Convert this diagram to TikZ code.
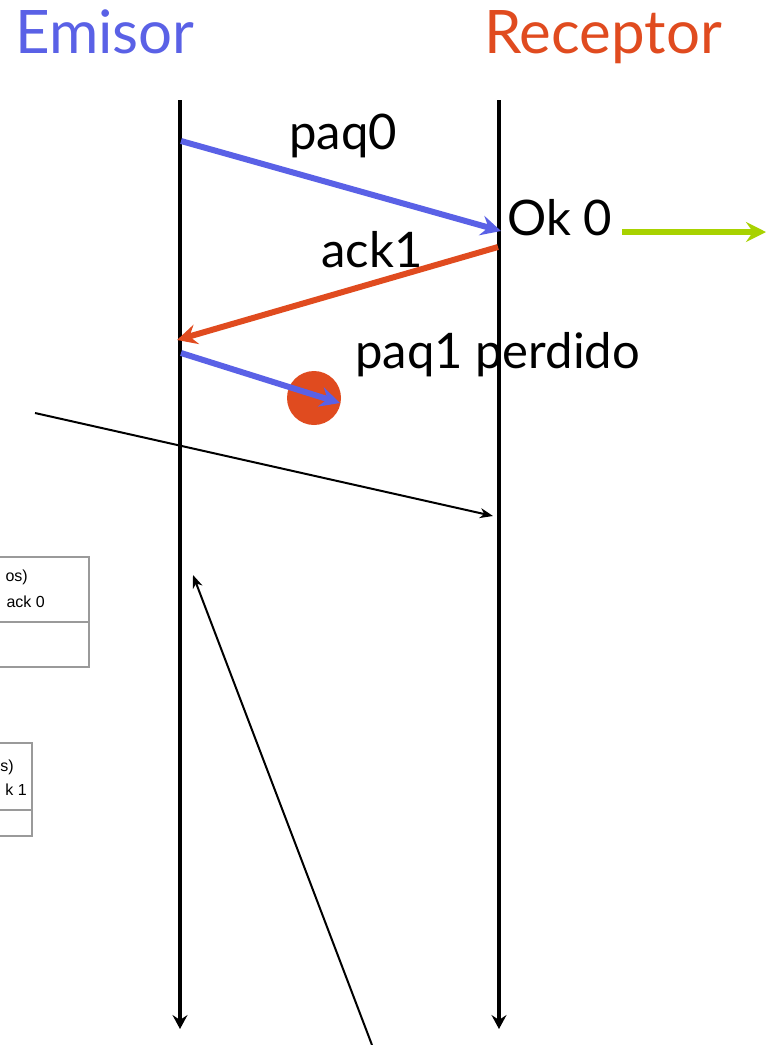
\documentclass[tikz,border=0pt]{standalone}
\usepackage{fontspec}
\setmainfont{Lato}
\newfontfamily\boxfont{Liberation Sans}
\usetikzlibrary{arrows.meta}
\definecolor{emblue}{HTML}{5A61E6}
\definecolor{rcred}{HTML}{E04B1F}
\definecolor{okgreen}{HTML}{A8D200}
\definecolor{boxgray}{HTML}{9A9A9A}
\tikzset{
  title/.style={font=\fontsize{60}{66}\selectfont, inner sep=0pt, anchor=base west},
  lbl/.style={font=\fontsize{49}{54}\selectfont, inner sep=0pt},
  timeline/.style={line width=4pt, -{Stealth[length=14pt,width=15pt,inset=5pt]}},
  msg/.style={line width=6pt, -{Stealth[length=20pt,width=20pt,inset=7pt]}},
  thin/.style={line width=2pt, -{Stealth[length=13pt,width=10pt,inset=4pt]}},
  partbox/.style={draw=boxgray, line width=2pt},
  boxtxt/.style={font=\boxfont\fontsize{16}{18}\selectfont, inner sep=0pt, anchor=base east},
}
\begin{document}
\begin{tikzpicture}[x=1pt,y=-1pt]
\useasboundingbox (0,0) rectangle (773,1045);
% partially visible boxes at the left
\draw[partbox] (-60,557) -- (89,557) -- (89,667) -- (-60,667);
\draw[partbox] (-60,622) -- (89,622);
\node[boxtxt] (b1a) at (28,581) {os)};
\node[boxtxt] (b1b) at (45,607) {ack 0};
\draw[partbox] (-60,743) -- (32,743) -- (32,836) -- (-60,836);
\draw[partbox] (-60,810) -- (32,810);
\node[boxtxt] (b2a) at (14,771) {s)};
\node[boxtxt] (b2b) at (27,795) {k 1};
% titles
\node[title, text=emblue] (em) at (15,53) {Emisor};
\node[title, text=rcred] (rc) at (484,53) {Receptor};
% labels
\node[lbl, anchor=base] (lp0) at (343,149) {paq0};
\node[lbl, anchor=base west] (ok) at (507,235) {Ok 0};
\node[lbl, anchor=base] (la1) at (372,267) {ack1};
\node[lbl, anchor=base west] (lp1) at (355,368) {paq1 perdido};
% thin arrows
\coordinate (t1s) at (35,413);
\coordinate (t1e) at (493,516);
\draw[thin] (t1s) -- (t1e);
\coordinate (t2s) at (372,1045);
\coordinate (t2e) at (193,575);
\draw[thin] (t2s) -- (t2e);
% timelines
\coordinate (Lt) at (180,100);
\coordinate (Lb) at (180,1029);
\coordinate (Rt) at (499,100);
\coordinate (Rb) at (499,1029);
\draw[timeline] (Lt) -- (Lb);
\draw[timeline] (Rt) -- (Rb);
% messages
\coordinate (p0s) at (181,141);
\coordinate (p0e) at (501,231);
\draw[msg, emblue] (p0s) -- (p0e);
\coordinate (a1s) at (498,247);
\coordinate (a1e) at (177,340);
\draw[msg, rcred] (a1s) -- (a1e);
\node[circle, fill=rcred, minimum size=54pt, inner sep=0pt] (lost) at (314,398) {};
\coordinate (p1s) at (181,353);
\coordinate (p1e) at (340,403);
\draw[msg, emblue] (p1s) -- (p1e);
\coordinate (gs) at (622,232);
\coordinate (ge) at (766,232);
\draw[msg, okgreen] (gs) -- (ge);
\end{tikzpicture}
\end{document}
